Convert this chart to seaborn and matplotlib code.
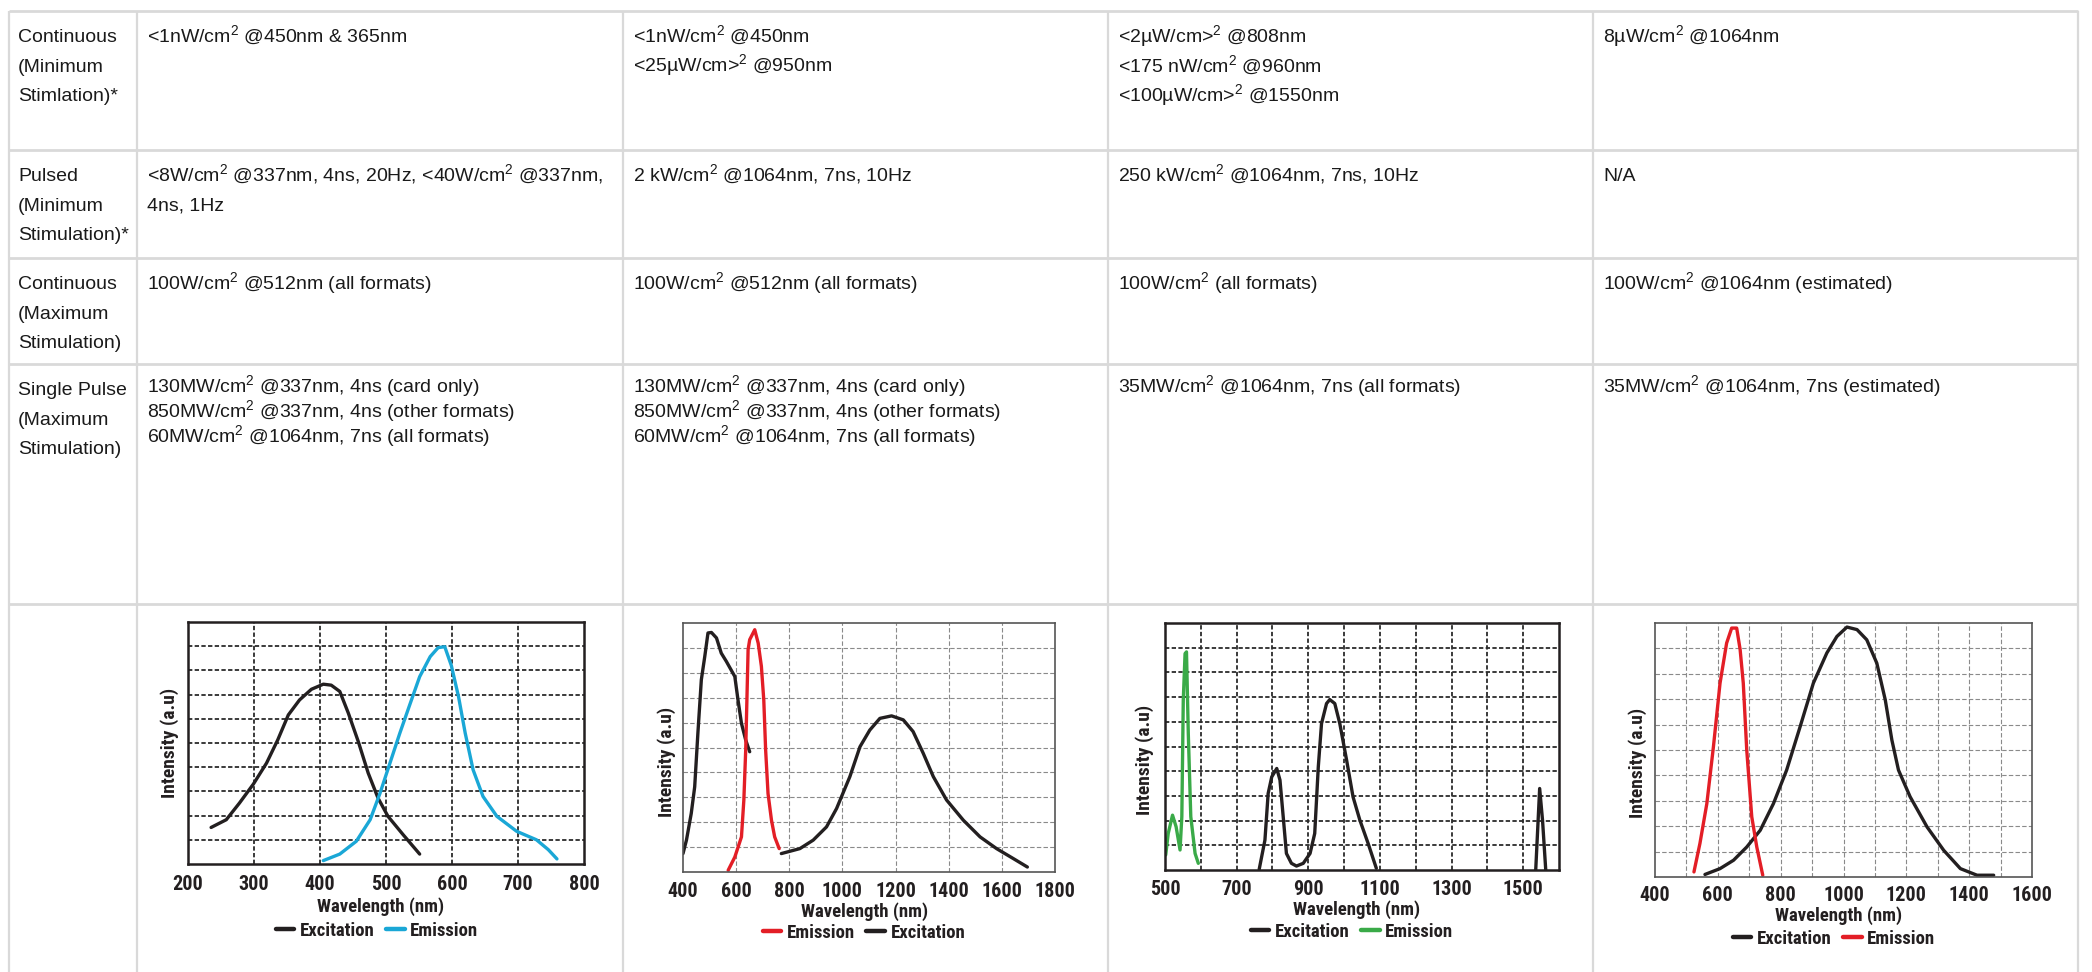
import matplotlib
matplotlib.use("Agg")
import matplotlib.pyplot as plt
import seaborn as sns
import pandas as pd
from matplotlib import font_manager
from matplotlib.lines import Line2D
from matplotlib.font_manager import FontProperties

# ---------------- DATA ----------------
row_labels = [
    ["Continuous", "(Minimum", "Stimlation)*"],
    ["Pulsed", "(Minimum", "Stimulation)*"],
    ["Continuous", "(Maximum", "Stimulation)"],
    ["Single Pulse", "(Maximum", "Stimulation)"],
]
S = "$^{\\mathrm{2}}$"
row1_cells = [
    ["<1nW/cm" + S + " @450nm & 365nm"],
    ["<1nW/cm" + S + " @450nm", "<25µW/cm>" + S + " @950nm"],
    ["<2µW/cm>" + S + " @808nm", "<175 nW/cm" + S + " @960nm", "<100µW/cm>" + S + " @1550nm"],
    ["8µW/cm" + S + " @1064nm"],
]
row2_cells = [
    ["<8W/cm" + S + " @337nm, 4ns, 20Hz, <40W/cm" + S + " @337nm,", "4ns, 1Hz"],
    ["2 kW/cm" + S + " @1064nm, 7ns, 10Hz"],
    ["250 kW/cm" + S + " @1064nm, 7ns, 10Hz"],
    ["N/A"],
]
row3_cells = [
    ["100W/cm" + S + " @512nm (all formats)"],
    ["100W/cm" + S + " @512nm (all formats)"],
    ["100W/cm" + S + " (all formats)"],
    ["100W/cm" + S + " @1064nm (estimated)"],
]
row4_cells = [
    ["130MW/cm" + S + " @337nm, 4ns (card only)", "850MW/cm" + S + " @337nm, 4ns (other formats)",
     "60MW/cm" + S + " @1064nm, 7ns (all formats)"],
    ["130MW/cm" + S + " @337nm, 4ns (card only)", "850MW/cm" + S + " @337nm, 4ns (other formats)",
     "60MW/cm" + S + " @1064nm, 7ns (all formats)"],
    ["35MW/cm" + S + " @1064nm, 7ns (all formats)"],
    ["35MW/cm" + S + " @1064nm, 7ns (estimated)"],
]

# Chart 1
c1_exc_wl = [235, 258, 278, 299, 319, 336, 352, 369, 387, 405, 417, 430, 443, 458, 473, 488, 503, 526, 551]
c1_exc_int = [1.51, 1.83, 2.52, 3.30, 4.17, 5.13, 6.16, 6.78, 7.22, 7.43, 7.39, 7.13, 6.23, 5.06, 3.76, 2.72, 1.97, 1.21, 0.41]
c1_em_wl = [405, 430, 455, 476, 491, 506, 521, 536, 551, 567, 579, 589, 599, 610, 620, 632, 647, 668, 698, 728, 746, 759]
c1_em_int = [0.14, 0.41, 0.94, 1.83, 2.93, 4.17, 5.41, 6.58, 7.74, 8.57, 8.94, 8.98, 8.2, 6.9, 5.41, 3.89, 2.79, 1.97, 1.35, 1.0, 0.59, 0.21]
c1_xticks = [200, 300, 400, 500, 600, 700, 800]
c1_xgrid = [300, 400, 500, 600, 700]

# Chart 2
c2_exc_a_wl = [400, 413, 431, 444, 456, 469, 482, 494, 507, 526, 544, 563, 595, 607, 620, 636, 651]
c2_exc_a_int = [0.74, 1.28, 2.35, 3.42, 5.57, 7.72, 8.66, 9.6, 9.62, 9.4, 8.79, 8.46, 7.85, 6.91, 5.97, 5.30, 4.83]
c2_exc_b_wl = [770, 840, 890, 940, 978, 1028, 1066, 1103, 1141, 1185, 1229, 1266, 1304, 1342, 1392, 1455, 1518, 1580, 1643, 1696]
c2_exc_b_int = [0.74, 0.94, 1.28, 1.81, 2.55, 3.83, 5.03, 5.70, 6.17, 6.27, 6.11, 5.64, 4.77, 3.83, 2.89, 2.08, 1.41, 0.94, 0.54, 0.20]
c2_em_wl = [570, 595, 620, 629, 636, 642, 645, 651, 670, 683, 695, 704, 711, 720, 733, 745, 762]
c2_em_int = [0.07, 0.60, 1.41, 2.89, 4.9, 7.58, 8.93, 9.33, 9.73, 9.19, 8.26, 6.91, 4.90, 3.15, 2.08, 1.41, 0.94]
c2_xticks = [400, 600, 800, 1000, 1200, 1400, 1600, 1800]
c2_xgrid = [600, 800, 1000, 1200, 1400, 1600]

# Chart 3
c3_em_wl = [502, 509, 521, 531, 542, 547, 551, 556, 560, 565, 572, 584, 593]
c3_em_int = [0.61, 1.48, 2.22, 1.75, 0.81, 2.16, 6.87, 8.76, 8.83, 5.53, 2.16, 0.67, 0.27]
c3_exc_a_wl = [763, 779, 788, 798, 812, 821, 830, 839, 853, 867, 886, 905, 918, 928, 937, 951, 960, 974, 988, 1007, 1025, 1044, 1067, 1090]
c3_exc_a_int = [0.03, 1.21, 3.10, 3.77, 4.11, 3.64, 2.16, 0.67, 0.27, 0.16, 0.27, 0.67, 1.48, 4.18, 5.93, 6.74, 6.90, 6.74, 5.93, 4.45, 2.96, 2.02, 1.08, 0.07]
c3_exc_b_wl = [1535, 1546, 1554, 1563]
c3_exc_b_int = [0.0, 3.30, 2.02, 0.0]
c3_xticks = [500, 700, 900, 1100, 1300, 1500]
c3_xgrid = [600, 700, 800, 900, 1000, 1100, 1200, 1300, 1400, 1500]

# Chart 4
c4_exc_wl = [559, 607, 650, 692, 735, 777, 819, 862, 904, 947, 979, 1011, 1043, 1074, 1106, 1133, 1154, 1175, 1212, 1266, 1319, 1372, 1425, 1478]
c4_exc_int = [0.1, 0.33, 0.66, 1.18, 1.84, 2.89, 4.21, 5.92, 7.63, 8.82, 9.47, 9.84, 9.74, 9.34, 8.42, 6.97, 5.39, 4.21, 3.16, 1.97, 1.05, 0.33, 0.07, 0.07]
c4_em_wl = [524, 543, 565, 586, 607, 628, 644, 660, 671, 681, 692, 708, 724, 743]
c4_em_int = [0.2, 1.32, 2.89, 5.13, 7.63, 9.21, 9.8, 9.8, 8.95, 7.63, 5.0, 2.37, 1.18, 0.07]
c4_xticks = [400, 600, 800, 1000, 1200, 1400, 1600]
c4_xgrid = [500, 600, 700, 800, 900, 1000, 1100, 1200, 1300, 1400, 1500]

y_grid = [1, 2, 3, 4, 5, 6, 7, 8, 9]

# ---------------- STYLE ----------------
sns.set_style("white")
names = {f.name for f in font_manager.fontManager.ttflist}
def pick(cands, default):
    for c in cands:
        if c in names:
            return c
    return default
TABLE_FONT = pick(["Liberation Sans", "Arial"], "DejaVu Sans")
CHART_FONT = pick(["Liberation Sans Narrow", "Roboto Condensed", "DejaVu Sans Condensed",
                   "Open Sans Condensed"], TABLE_FONT)
plt.rcParams["font.family"] = [TABLE_FONT, "DejaVu Sans"]
plt.rcParams["mathtext.fontset"] = "custom"
plt.rcParams["mathtext.rm"] = TABLE_FONT
plt.rcParams["mathtext.it"] = TABLE_FONT
plt.rcParams["mathtext.bf"] = TABLE_FONT

W, H = 2092, 972
fig = plt.figure(figsize=(W / 100, H / 100), dpi=100)
fig.patch.set_facecolor("white")

bg = fig.add_axes([0, 0, 1, 1])
bg.set_xlim(0, W)
bg.set_ylim(H, 0)
bg.axis("off")

cols = [9, 137, 623, 1108, 1593, 2078]
rows = [11, 150, 258, 364, 604]
LINE_C = "#d9d9d9"
for y in rows:
    bg.plot([cols[0], cols[-1]], [y, y], color=LINE_C, lw=2.0, solid_capstyle="butt")
for x in cols:
    bg.plot([x, x], [rows[0], H], color=LINE_C, lw=1.6, solid_capstyle="butt")

TXT_C = "#1a1a1a"
FS = 14
first_off = 31
lab_sp = 29.5
for r, lab in enumerate(row_labels):
    for i, s in enumerate(lab):
        bg.text(18, rows[r] + first_off + i * lab_sp, s, fontsize=FS, color=TXT_C, va="baseline", ha="left")

all_rows = [row1_cells, row2_cells, row3_cells, row4_cells]
spacings = [29.5, 29.5, 29.5, 25]
for r, cells in enumerate(all_rows):
    for c, lines in enumerate(cells):
        for i, s in enumerate(lines):
            off = first_off if r < 3 else 28
            bg.text(cols[c + 1] + 10, rows[r] + off + i * spacings[r], s, fontsize=FS,
                    color=TXT_C, va="baseline", ha="left")

# ---------------- CHARTS ----------------
def make_df(series):
    frames = []
    for name, seg, wl, it in series:
        frames.append(pd.DataFrame({"wl": wl, "inten": it, "series": name, "seg": seg}))
    return pd.concat(frames, ignore_index=True)

BLACK = "#231f20"
CYAN = "#1aa7d6"
RED = "#e31e26"
GREEN = "#3aaa48"

charts = [
    dict(box=(188, 622, 584, 864), xlim=(200, 800), xticks=c1_xticks, xgrid=c1_xgrid, dark=True,
         pad=8, xlab=(381, 907), ylab=(170, 743), leg=(377, 931),
         df=make_df([("Excitation", 0, c1_exc_wl, c1_exc_int), ("Emission", 1, c1_em_wl, c1_em_int)]),
         order=["Excitation", "Emission"], pal={"Excitation": BLACK, "Emission": CYAN}),
    dict(box=(683, 623, 1055, 872), xlim=(400, 1800), xticks=c2_xticks, xgrid=c2_xgrid, dark=False,
         pad=7, xlab=(865, 912), ylab=(667, 762), leg=(864, 933),
         df=make_df([("Excitation", 0, c2_exc_a_wl, c2_exc_a_int), ("Excitation", 1, c2_exc_b_wl, c2_exc_b_int),
                     ("Emission", 2, c2_em_wl, c2_em_int)]),
         order=["Emission", "Excitation"], pal={"Excitation": BLACK, "Emission": RED}),
    dict(box=(1165, 623, 1559, 870), xlim=(500, 1600), xticks=c3_xticks, xgrid=c3_xgrid, dark=True,
         pad=7, xlab=(1357, 910), ylab=(1145, 760), leg=(1352, 932),
         df=make_df([("Emission", 0, c3_em_wl, c3_em_int), ("Excitation", 1, c3_exc_a_wl, c3_exc_a_int),
                     ("Excitation", 2, c3_exc_b_wl, c3_exc_b_int)]),
         order=["Excitation", "Emission"], pal={"Excitation": BLACK, "Emission": GREEN}),
    dict(box=(1655, 623, 2032, 877), xlim=(400, 1600), xticks=c4_xticks, xgrid=c4_xgrid, dark=False,
         pad=6.5, xlab=(1839, 916), ylab=(1638, 763), leg=(1834, 939),
         df=make_df([("Excitation", 0, c4_exc_wl, c4_exc_int), ("Emission", 1, c4_em_wl, c4_em_int)]),
         order=["Excitation", "Emission"], pal={"Excitation": BLACK, "Emission": RED}),
]

tick_fp = FontProperties(family=CHART_FONT, weight="bold", size=14.5)
xlab_fp = FontProperties(family=CHART_FONT, weight="bold", size=13.5)
ylab_fp = FontProperties(family=CHART_FONT, weight="bold", size=14)
leg_fp = FontProperties(family=CHART_FONT, weight="bold", size=13.5)

for ch in charts:
    l, t, r, b = ch["box"]
    ax = fig.add_axes([l / W, 1 - b / H, (r - l) / W, (b - t) / H])
    ax.set_facecolor("white")
    sns.lineplot(data=ch["df"], x="wl", y="inten", hue="series", units="seg", estimator=None,
                 sort=False, palette=ch["pal"], lw=2.4, legend=False, ax=ax, zorder=3)
    ax.set_xlim(*ch["xlim"])
    ax.set_ylim(0, 10)
    ax.xaxis.remove_overlapping_locs = False
    ax.set_xticks(ch["xticks"])
    ax.set_xticks(ch["xgrid"], minor=True)
    ax.set_yticks(y_grid)
    ax.set_yticklabels([])
    for lab in ax.get_xticklabels():
        lab.set_fontproperties(tick_fp)
        lab.set_color(BLACK)
    ax.tick_params(axis="both", which="both", length=0)
    ax.tick_params(axis="x", pad=ch["pad"])
    if ch["dark"]:
        gkw = dict(color="#2b2b2b", lw=1.3, linestyle=(0, (2.4, 1.3)))
        spine_c, spine_w = BLACK, 1.8
    else:
        gkw = dict(color="#8a8a8a", lw=0.8, linestyle=(0, (4, 2)))
        spine_c, spine_w = "#555555", 1.2
    ax.xaxis.grid(False, which="major")
    ax.xaxis.grid(True, which="minor", **gkw)
    ax.yaxis.grid(True, which="major", **gkw)
    ax.set_axisbelow(True)
    for sp in ax.spines.values():
        sp.set_visible(True)
        sp.set_color(spine_c)
        sp.set_linewidth(spine_w)
        sp.set_zorder(4)
    ax.set_xlabel("")
    ax.set_ylabel("")
    xl, yl = ch["xlab"]
    bg.text(xl, yl, "Wavelength (nm)", fontproperties=xlab_fp, color=BLACK, ha="center", va="center")
    yx, yy = ch["ylab"]
    bg.text(yx, yy, "Intensity (a.u)", fontproperties=ylab_fp, color=BLACK, ha="center", va="center",
            rotation=90)
    handles = [Line2D([0], [0], color=ch["pal"][n], lw=3.2) for n in ch["order"]]
    lx, ly = ch["leg"]
    ax.legend(handles, ch["order"], loc="center", bbox_to_anchor=(lx / W, 1 - ly / H),
              bbox_transform=fig.transFigure, ncol=2, frameon=False, prop=leg_fp,
              handlelength=1.0, handletextpad=0.3, columnspacing=0.6, borderpad=0, borderaxespad=0,
              labelcolor=BLACK)

fig.savefig("out.png", dpi=100, facecolor="white")
